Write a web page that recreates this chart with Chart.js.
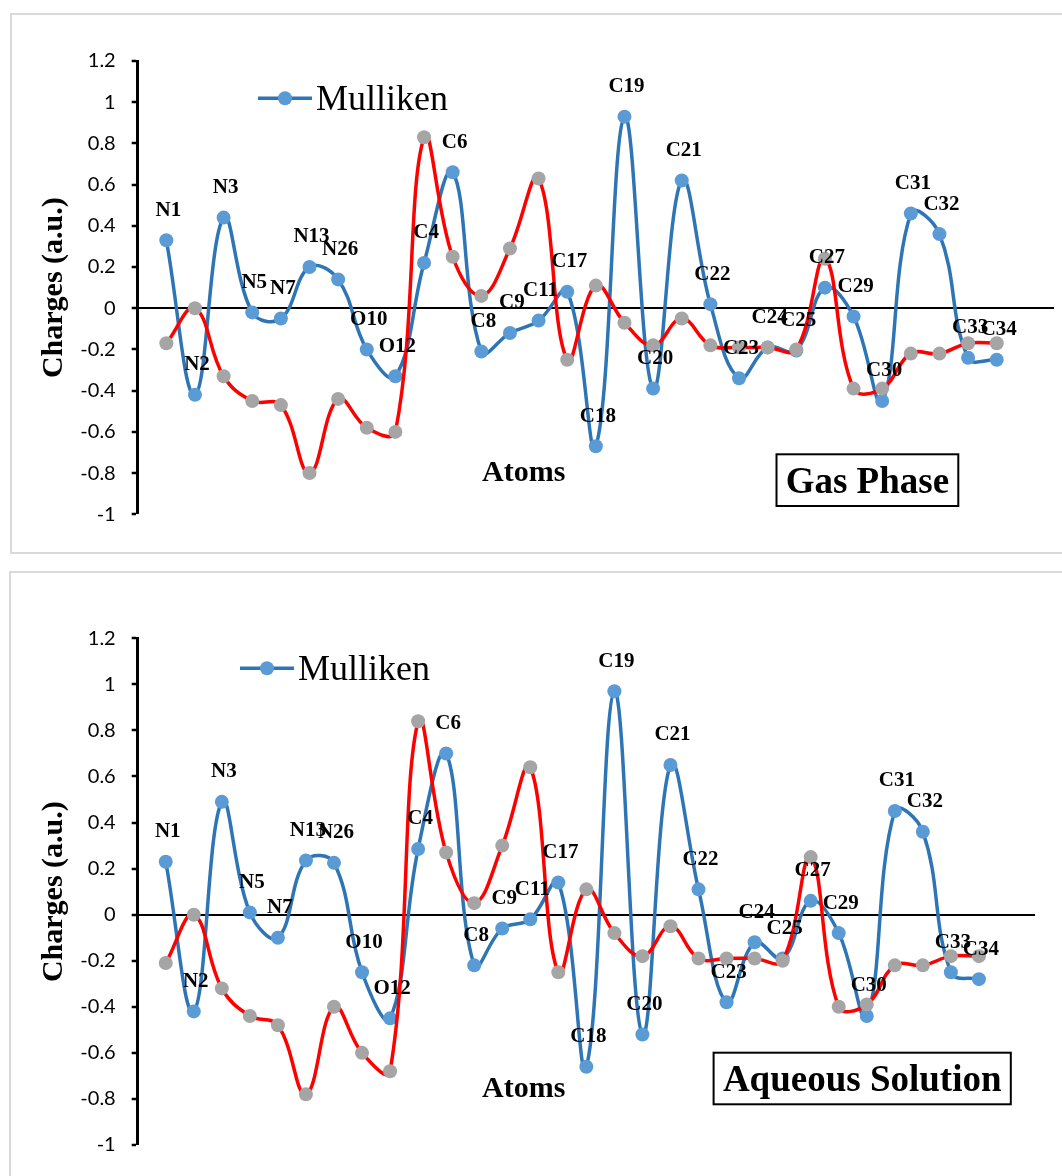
<!DOCTYPE html>
<html><head><meta charset="utf-8">
<script src="https://cdn.jsdelivr.net/npm/chart.js@4.4.1/dist/chart.umd.min.js"></script>
<style>
html,body{margin:0;padding:0;background:#fff;width:1062px;height:1176px;overflow:hidden;position:relative}
.panel{position:absolute;border:2px solid #d9d9d9;box-sizing:border-box}
canvas{position:absolute;left:0}
</style></head><body>
<div class="panel" style="left:10px;top:13px;width:1070px;height:541px"></div>
<div class="panel" style="left:9px;top:571px;width:1070px;height:640px"></div>
<canvas id="c1" width="1062" height="560" style="top:0;width:1062px;height:560px"></canvas>
<canvas id="c2" width="1062" height="616" style="top:560px;width:1062px;height:616px"></canvas>
<script>
// ---- data ----
const atoms = ['N1','N2','N3','N5','N7','N13','N26','O10','O12','C4','C6','C8','C9','C11','C17','C18','C19','C20','C21','C22','C23','C24','C25','C27','C29','C30','C31','C32','C33','C34'];
const gasMulliken = [0.33,-0.42,0.44,-0.02,-0.05,0.20,0.14,-0.20,-0.33,0.22,0.66,-0.21,-0.12,-0.06,0.08,-0.67,0.93,-0.39,0.62,0.02,-0.34,-0.19,-0.205,0.10,-0.04,-0.45,0.46,0.36,-0.24,-0.25];
const gasSecond   = [-0.17,0.00,-0.33,-0.45,-0.47,-0.80,-0.44,-0.58,-0.60,0.83,0.25,0.06,0.29,0.63,-0.25,0.11,-0.07,-0.18,-0.05,-0.18,-0.19,-0.19,-0.20,0.24,-0.39,-0.39,-0.22,-0.22,-0.17,-0.17];
const aqMulliken  = [0.23,-0.42,0.49,0.01,-0.10,0.235,0.225,-0.25,-0.45,0.285,0.70,-0.22,-0.06,-0.02,0.14,-0.66,0.97,-0.52,0.65,0.11,-0.38,-0.12,-0.19,0.06,-0.08,-0.44,0.45,0.36,-0.25,-0.28];
const aqSecond    = [-0.21,0.00,-0.32,-0.44,-0.48,-0.78,-0.40,-0.60,-0.68,0.84,0.27,0.05,0.30,0.64,-0.25,0.11,-0.08,-0.18,-0.05,-0.19,-0.19,-0.19,-0.20,0.25,-0.40,-0.39,-0.22,-0.22,-0.18,-0.18];
const yMin = -1, yMax = 1.2, yStep = 0.2;
const xMin = 0, xMax = 32;
const seriesName = 'Mulliken';
const axisTitleY = 'Charges (a.u.)';
const axisTitleX = 'Atoms';
const panelTitles = ['Gas Phase', 'Aqueous Solution'];

const BLUE_LINE = '#2E75B6', BLUE_MARK = '#5B9BD5', RED = '#FF0000', GRAY = '#A5A5A5';

function toXY(vals){ return vals.map((v,i)=>({x:i+1, y:v})); }

function decor(cfg){
  return {
    id:'decor'+cfg.id,
    afterDatasetsDraw(chart){
      const ctx = chart.ctx;
      const meta = chart.getDatasetMeta(0);
      ctx.save();
      // data labels
      ctx.font = 'bold 21px "Liberation Serif"';
      ctx.fillStyle = '#000'; ctx.textAlign = 'center'; ctx.textBaseline = 'middle';
      meta.data.forEach((pt,i)=>{ ctx.fillText(atoms[i], pt.x + 2, pt.y - 30); });
      // legend
      ctx.strokeStyle = BLUE_LINE; ctx.lineWidth = 3.5;
      ctx.beginPath(); ctx.moveTo(cfg.legX, cfg.legY); ctx.lineTo(cfg.legX + 54, cfg.legY); ctx.stroke();
      ctx.fillStyle = BLUE_MARK;
      ctx.beginPath(); ctx.arc(cfg.legX + 27, cfg.legY, 7, 0, Math.PI*2); ctx.fill();
      ctx.fillStyle = '#000'; ctx.textAlign = 'left'; ctx.textBaseline = 'alphabetic';
      ctx.font = '36px "Liberation Serif"';
      ctx.fillText(seriesName, cfg.legX + 58, cfg.legY + 11.5);
      // x axis title
      ctx.font = 'bold 30px "Liberation Serif"';
      ctx.fillText(axisTitleX, cfg.atX, cfg.atY);
      // boxed panel title
      ctx.strokeStyle = '#000'; ctx.lineWidth = 2;
      ctx.strokeRect(cfg.box[0], cfg.box[1], cfg.box[2], cfg.box[3]);
      ctx.font = 'bold 37px "Liberation Serif"';
      ctx.textAlign = 'center';
      ctx.fillText(cfg.title, cfg.box[0] + cfg.box[2]/2, cfg.box[1] + cfg.box[3] - 13.5);
      ctx.restore();
    }
  };
}

function makeChart(canvasId, mull, second, pad, cfg){
  const isZero = c => c.tick && Math.abs(c.tick.value) < 1e-9;
  return new Chart(document.getElementById(canvasId), {
    type:'line',
    data:{ datasets:[
      { label:seriesName, data:toXY(mull), borderColor:BLUE_LINE, backgroundColor:BLUE_MARK,
        pointBackgroundColor:BLUE_MARK, pointBorderWidth:0, pointRadius:7, pointHoverRadius:7,
        borderWidth:3.5, tension:0.4, fill:false, order:2 },
      { label:'', data:toXY(second), borderColor:RED, backgroundColor:GRAY,
        pointBackgroundColor:GRAY, pointBorderWidth:0, pointRadius:7, pointHoverRadius:7,
        borderWidth:3.5, tension:0.4, fill:false, order:1 }
    ]},
    options:{
      responsive:false, animation:false, devicePixelRatio:1,
      layout:{ padding:pad },
      plugins:{ legend:{display:false}, tooltip:{enabled:false}, title:{display:false} },
      scales:{
        x:{ type:'linear', min:xMin, max:xMax, display:false },
        y:{ type:'linear', min:yMin, max:yMax,
            afterFit(s){ s.width = 105.7; },
            border:{ display:true, color:'#000', width:3 },
            grid:{ drawTicks:true, tickLength:6, tickColor:'#000', tickWidth:2.5,
                   color: c => isZero(c) ? '#000' : 'rgba(0,0,0,0)',
                   lineWidth: c => isZero(c) ? 2 : 0 },
            ticks:{ stepSize:yStep, padding:16, color:'#000',
                    font:{ family:'Lato', size:20 },
                    callback: v => String(+(+v).toFixed(1)) },
            title:{ display:true, text:axisTitleY, color:'#000',
                    font:{ family:'Liberation Serif', size:30, weight:'bold' },
                    padding:{top:4,bottom:4} } }
      }
    },
    plugins:[decor(cfg)]
  });
}

function draw(){
  makeChart('c1', gasMulliken, gasSecond,
    {left:32, top:61, right:8, bottom:45.7},
    {id:1, legX:258, legY:98.3, atX:482, atY:480.7, box:[776.5,454.3,181.8,51.7], title:panelTitles[0]});
  makeChart('c2', aqMulliken, aqSecond,
    {left:32, top:78.3, right:27, bottom:31},
    {id:2, legX:240, legY:108.3, atX:482, atY:536.7, box:[713.6,492.7,297.2,51.6], title:panelTitles[1]});
}
if (document.fonts && document.fonts.load) {
  Promise.all([
    document.fonts.load('20px Lato'),
    document.fonts.load('bold 20px "Liberation Serif"'),
    document.fonts.load('20px "Liberation Serif"')
  ]).then(draw, draw);
} else draw();
</script>
</body></html>
